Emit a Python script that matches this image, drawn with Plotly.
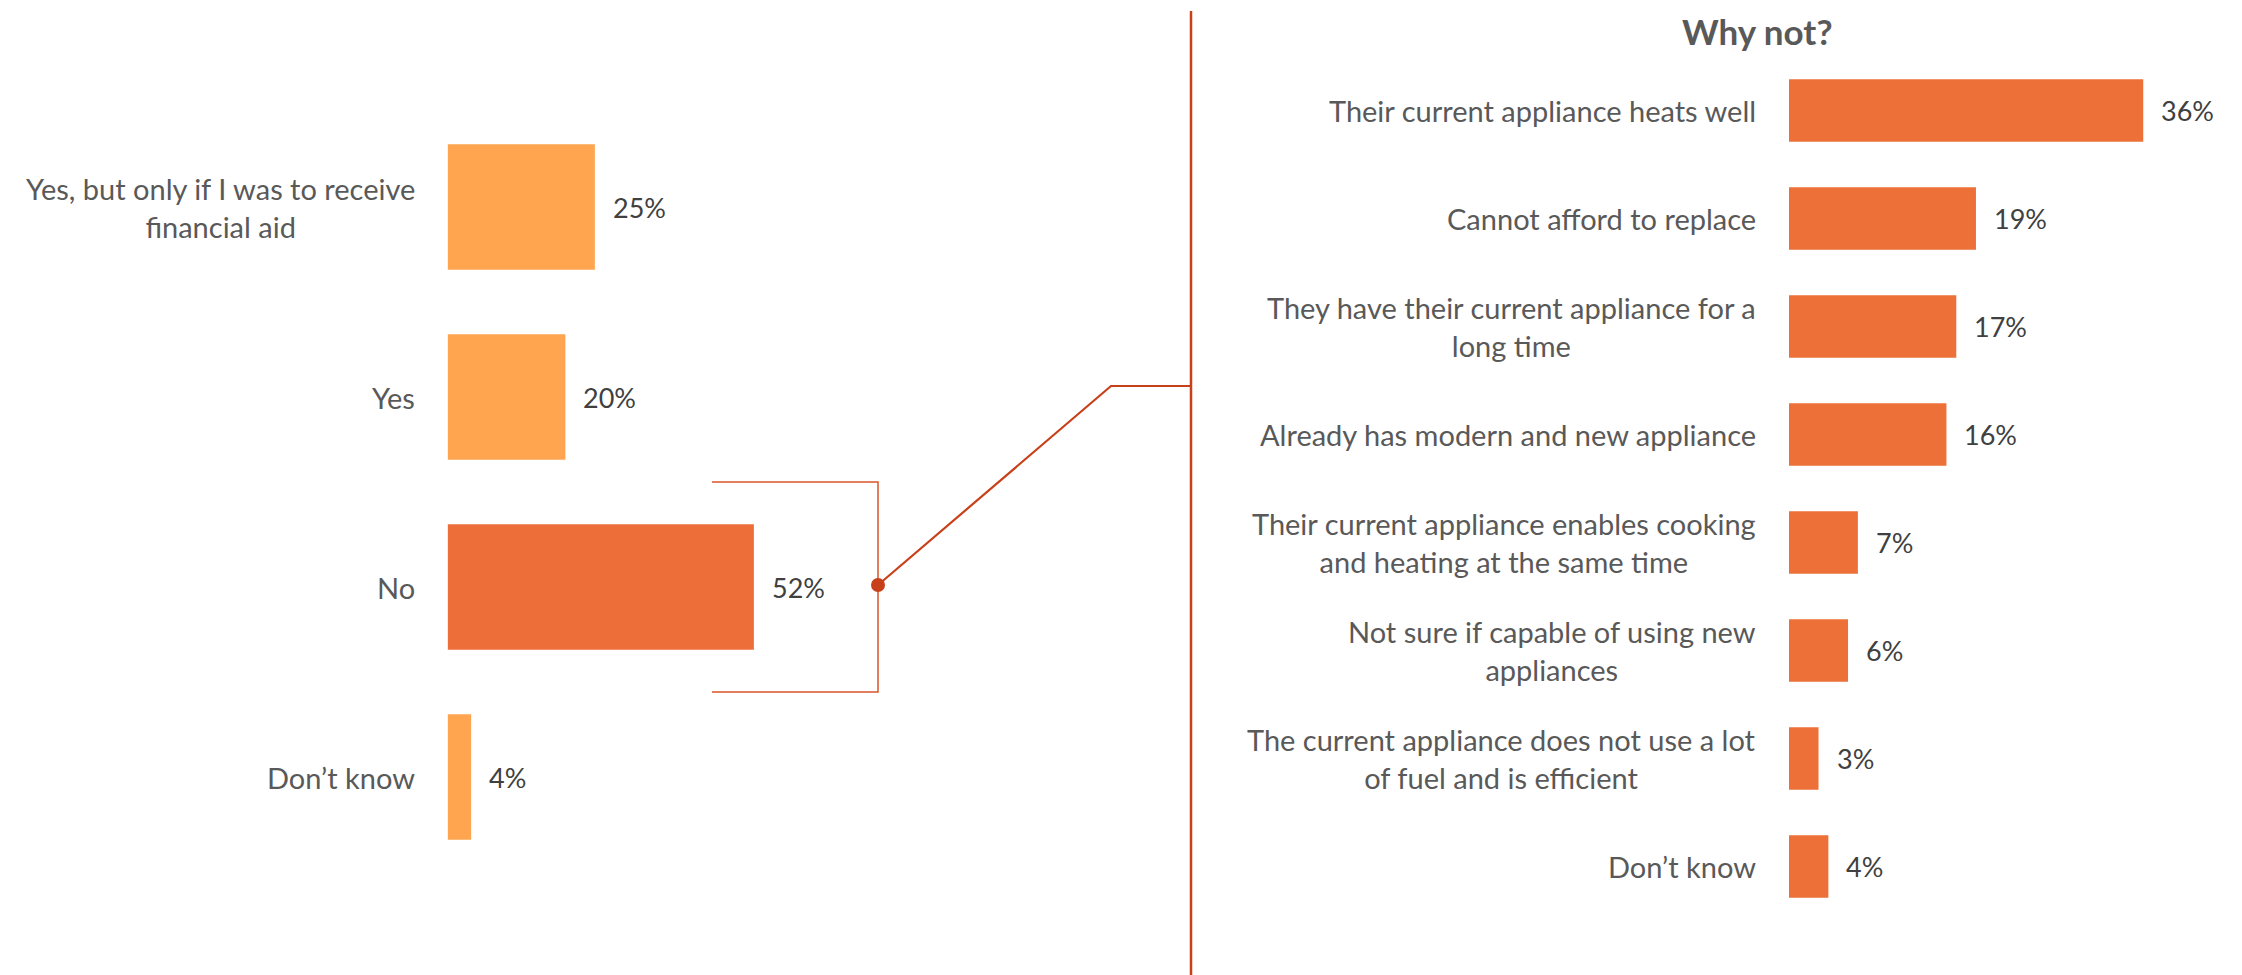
import plotly.graph_objects as go

W, H = 2242, 975

# left chart: would they replace the appliance
left_labels = ["Yes, but only if I was to receive<br>financial aid", "Yes", "No", "Don’t know"]
left_values = [25, 20, 52, 4]
left_colors = ["#FFA550", "#FFA550", "#ED6E38", "#FFA550"]

# right chart: why not
right_labels = [
    "Their current appliance heats well",
    "Cannot afford to replace",
    "They have their current appliance for a<br>long time",
    "Already has modern and new appliance",
    "Their current appliance enables cooking<br>and heating at the same time",
    "Not sure if capable of using new<br>appliances",
    "The current appliance does not use a lot<br>of fuel and is efficient",
    "Don’t know",
]
right_values = [36, 19, 17, 16, 7, 6, 3, 4]
right_color = "#ED7038"

FONT = "Lato"
LABEL_C = "#595959"
VALUE_C = "#404040"
LINE_C = "#C8401A"
OFF = 8  # page body margin


def px(x, y):
    # pixel position (in the screenshot) -> paper coords
    return (x - OFF) / W, 1 - (y - OFF) / H


# pixels per percent on each side
left_x0, left_ppu = 447.6, 5.89
right_x0, right_ppu = 1789, 9.84

fig = go.Figure()
fig.add_trace(go.Bar(
    x=left_values, y=left_labels, orientation="h", width=0.66,
    marker=dict(color=left_colors, line=dict(width=0)),
    xaxis="x", yaxis="y", hoverinfo="skip", showlegend=False,
))
fig.add_trace(go.Bar(
    x=right_values, y=right_labels, orientation="h", width=0.58,
    marker=dict(color=right_color, line=dict(width=0)),
    xaxis="x2", yaxis="y2", hoverinfo="skip", showlegend=False,
))

annotations = []
for lab, val in zip(left_labels, left_values):
    annotations.append(dict(x=0, y=lab, xref="x", yref="y", text=lab, showarrow=False,
                            xanchor="right", xshift=-31, align="center",
                            font=dict(family=FONT, size=29, color=LABEL_C)))
    annotations.append(dict(x=val, y=lab, xref="x", yref="y", text=f"{val}%", showarrow=False,
                            xanchor="left", xshift=16,
                            font=dict(family=FONT, size=27, color=VALUE_C)))
for lab, val in zip(right_labels, right_values):
    annotations.append(dict(x=0, y=lab, xref="x2", yref="y2", text=lab, showarrow=False,
                            xanchor="right", xshift=-31, align="center",
                            font=dict(family=FONT, size=29, color=LABEL_C)))
    annotations.append(dict(x=val, y=lab, xref="x2", yref="y2", text=f"{val}%", showarrow=False,
                            xanchor="left", xshift=16,
                            font=dict(family=FONT, size=27, color=VALUE_C)))

tx, ty = px(1757, 31)
annotations.append(dict(x=tx, y=ty, xref="paper", yref="paper", text="<b>Why not?</b>",
                        showarrow=False, xanchor="center", yanchor="middle",
                        font=dict(family=FONT, size=35, color=LABEL_C)))

# bracket around "No" bar, in left axis units
bx0 = (712 - left_x0) / left_ppu
bx1 = (878 - left_x0) / left_ppu
ni = left_labels.index("No")
shapes = [
    dict(type="path", xref="x", yref="y",
         path=f"M {bx0},{ni - 0.553} L {bx1},{ni - 0.553} L {bx1},{ni + 0.553} L {bx0},{ni + 0.553}",
         line=dict(color="#D9562A", width=1.5)),
]
# connector from bracket to right panel
p1 = px(878, 585)
p2 = px(1111, 386)
p3 = px(1191, 386)
shapes.append(dict(type="path", xref="paper", yref="paper",
                   path=f"M {p1[0]},{p1[1]} L {p2[0]},{p2[1]} L {p3[0]},{p3[1]}",
                   line=dict(color=LINE_C, width=2.2)))
v0 = px(1191, 11)
v1 = px(1191, 990)
shapes.append(dict(type="line", xref="paper", yref="paper",
                   x0=v0[0], y0=v0[1], x1=v1[0], y1=v1[1],
                   line=dict(color=LINE_C, width=2.5)))
c0 = px(871, 578)
c1 = px(885, 592)
shapes.append(dict(type="circle", xref="paper", yref="paper",
                   x0=c0[0], y0=c1[1], x1=c1[0], y1=c0[1],
                   fillcolor=LINE_C, line=dict(color=LINE_C, width=0)))

lx0, lx1 = (left_x0 - OFF) / W, (1150 - OFF) / W
rx0 = (right_x0 - OFF) / W
ly_top, ly_bot = 112 - OFF, 872 - OFF
ry_top, ry_bot = 56.5 - OFF, 920.5 - OFF

fig.update_layout(
    width=W, height=H,
    margin=dict(l=0, r=0, t=0, b=0),
    paper_bgcolor="white", plot_bgcolor="white",
    xaxis=dict(domain=[lx0, lx1], range=[0, (lx1 - lx0) * W / left_ppu],
               visible=False, fixedrange=True),
    yaxis=dict(domain=[1 - ly_bot / H, 1 - ly_top / H], type="category",
               categoryorder="array", categoryarray=left_labels,
               range=[len(left_labels) - 0.5, -0.5], visible=False),
    xaxis2=dict(domain=[rx0, 1.0], range=[0, (1 - rx0) * W / right_ppu],
                visible=False, anchor="y2"),
    yaxis2=dict(domain=[1 - ry_bot / H, 1 - ry_top / H], type="category",
                categoryorder="array", categoryarray=right_labels,
                range=[len(right_labels) - 0.5, -0.5], visible=False, anchor="x2"),
    annotations=annotations,
    shapes=shapes,
)

fig.write_html("out.html")
